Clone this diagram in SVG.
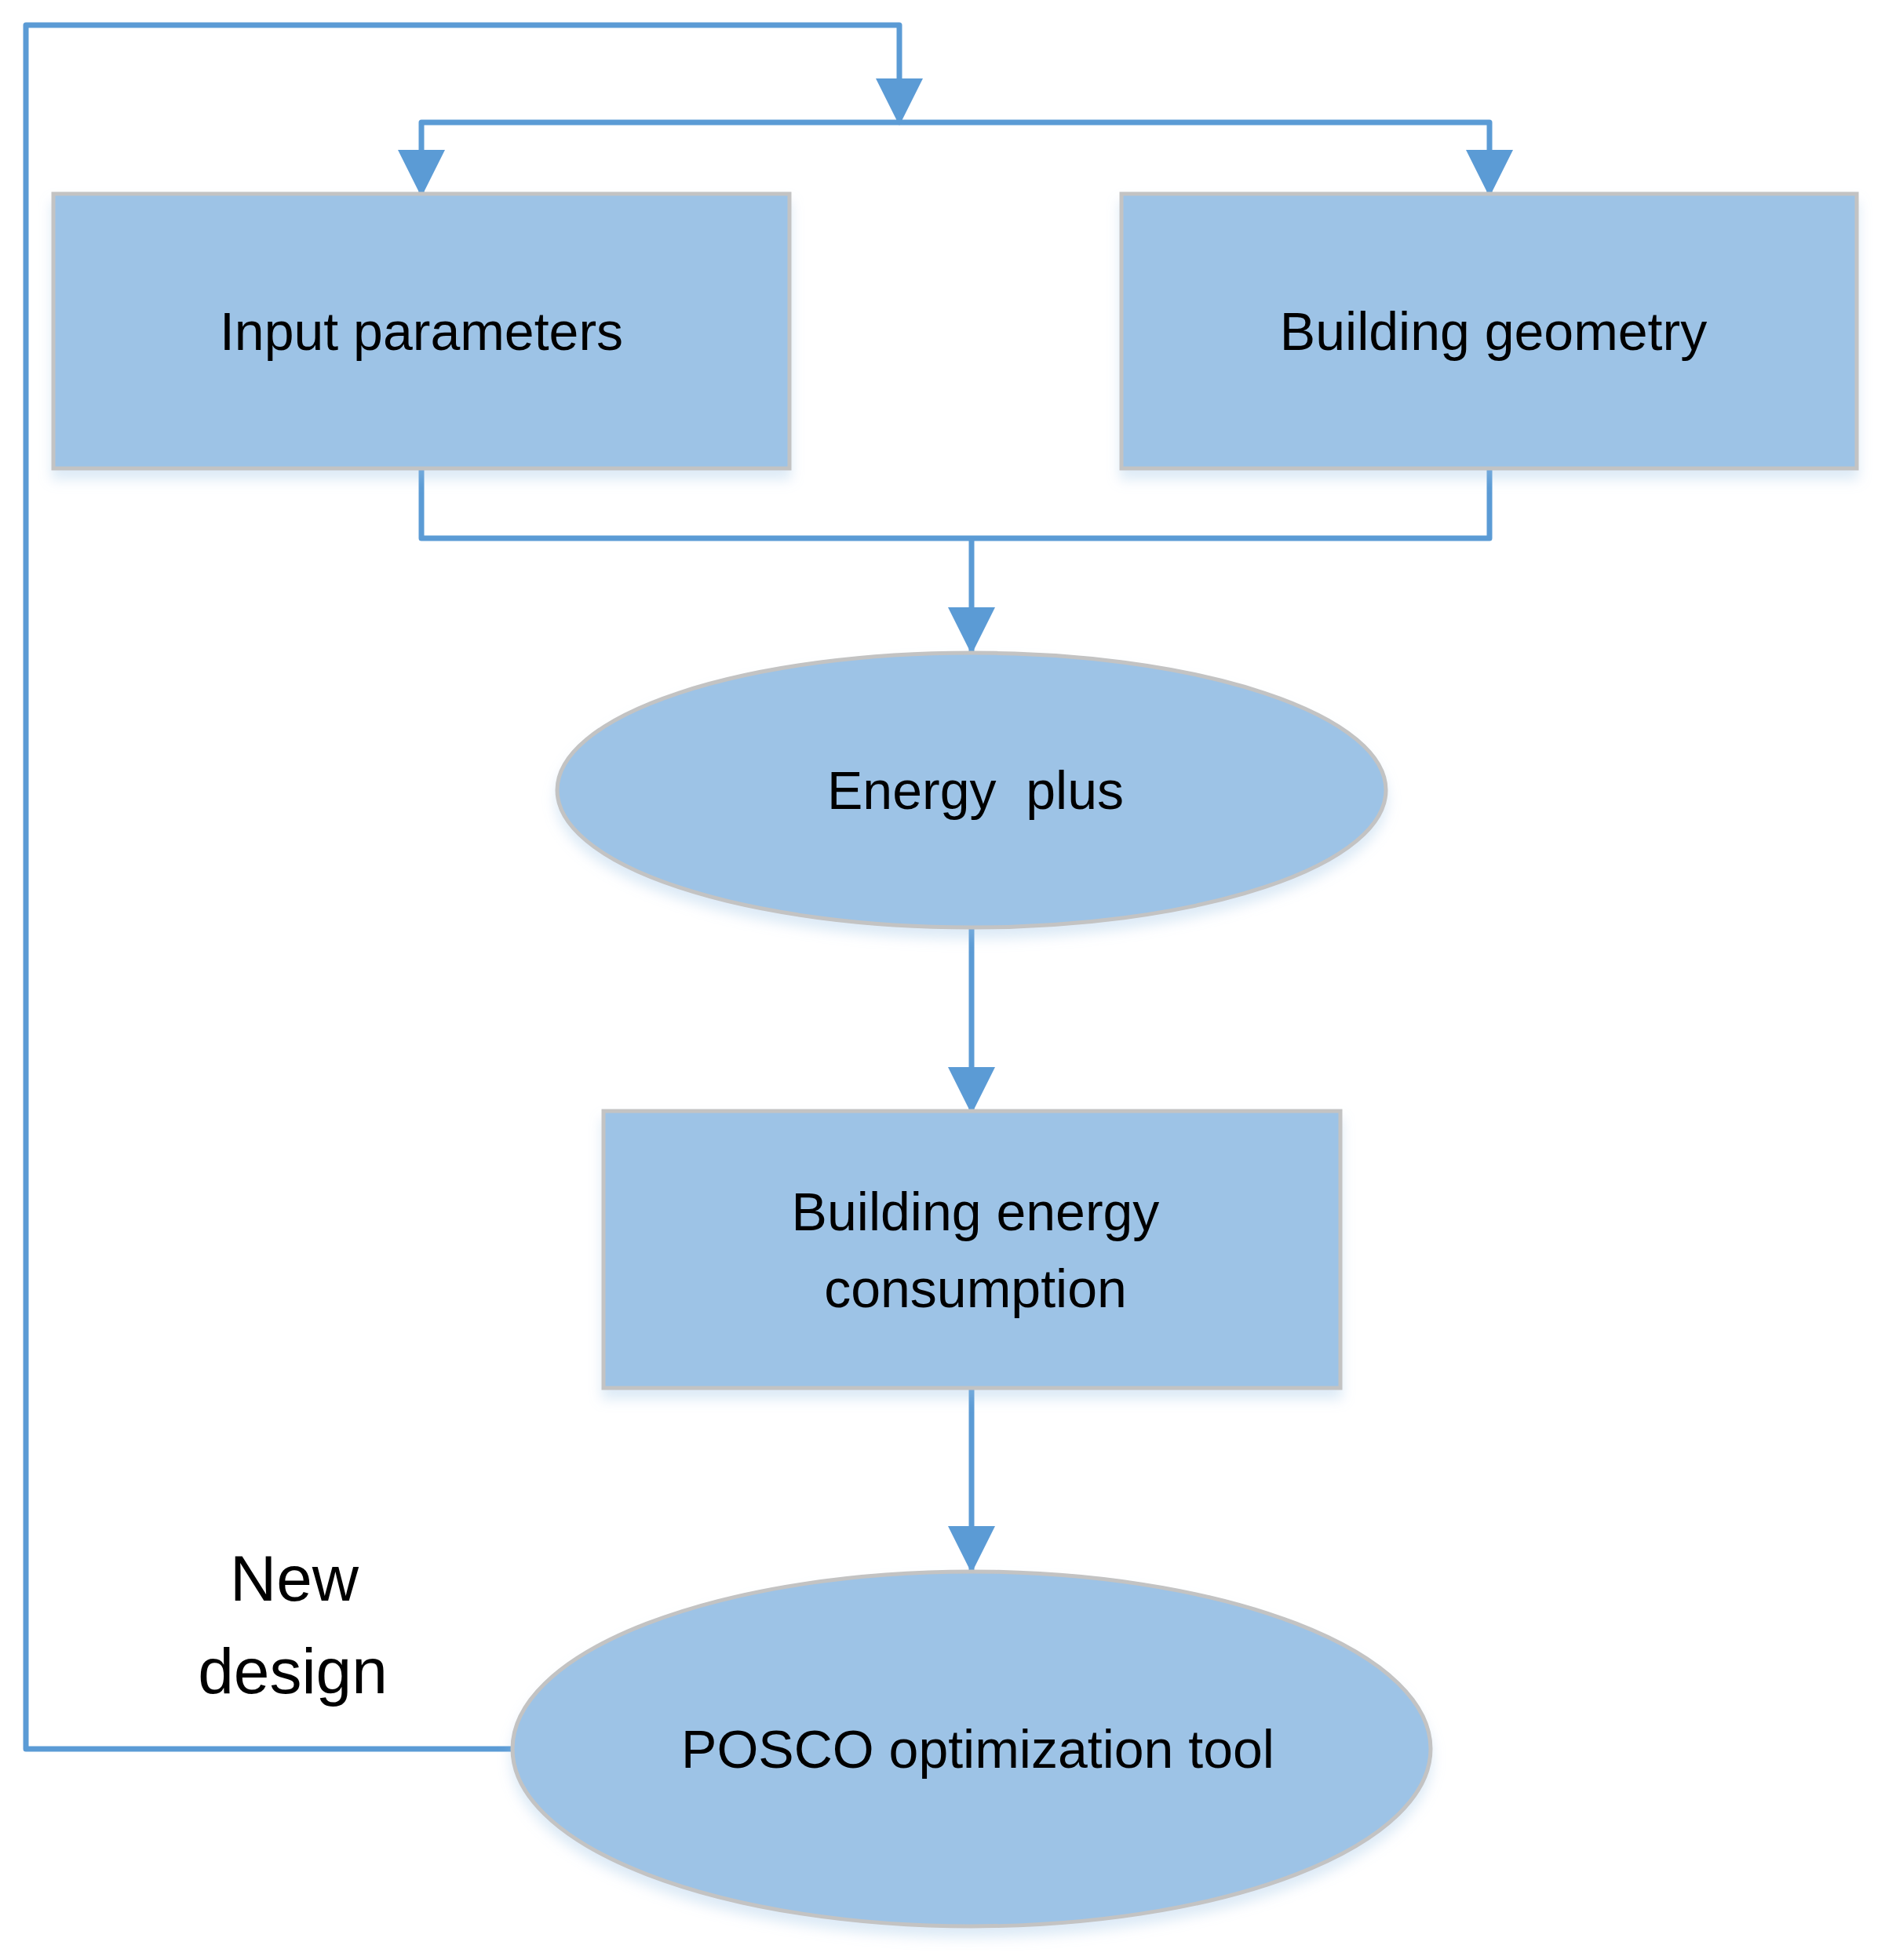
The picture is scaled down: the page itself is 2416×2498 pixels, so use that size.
<svg xmlns="http://www.w3.org/2000/svg" width="2416" height="2498" viewBox="0 0 2416 2498">
<style>
.n{fill:#9dc3e6;stroke:#c3c3c3;stroke-width:5}
.t{font-family:"Liberation Sans",Arial,sans-serif;font-size:68px;fill:#000;text-anchor:middle}
.c{fill:none;stroke:#5b9bd5;stroke-width:7;stroke-linejoin:round}
</style>
<defs>
<marker id="a" markerUnits="userSpaceOnUse" markerWidth="60" markerHeight="60" refX="56" refY="30" orient="auto"><path d="M0,0 L60,30 L0,60 Z" fill="#5b9bd5"/></marker>
<filter id="s" x="-5%" y="-5%" width="115%" height="120%"><feDropShadow dx="0" dy="12" stdDeviation="8" flood-color="#9dc3e6" flood-opacity="0.35"/></filter>
</defs>
<rect width="2416" height="2498" fill="#fff"/>
<g id="connectors">
<path class="c" d="M655,2229 H33 V32 H1146 V156" marker-end="url(#a)"/>
<path class="c" d="M1146,156 H537 V247" marker-end="url(#a)"/>
<path class="c" d="M1146,156 H1898 V247" marker-end="url(#a)"/>
<path class="c" d="M537,597 V686 H1898 V597"/>
<path class="c" d="M1238,686 V830" marker-end="url(#a)"/>
<path class="c" d="M1238,1182 V1416" marker-end="url(#a)"/>
<path class="c" d="M1238,1769 V2001" marker-end="url(#a)"/>
</g>
<g id="input">
<rect class="n" filter="url(#s)" x="68" y="247" width="938" height="350"/>
<text class="t" x="537" y="446">Input parameters</text>
</g>
<g id="geometry">
<rect class="n" filter="url(#s)" x="1429" y="247" width="937" height="350"/>
<text class="t" x="1903" y="446">Building geometry</text>
</g>
<g id="energyplus">
<ellipse class="n" filter="url(#s)" cx="1238" cy="1007" rx="528" ry="175"/>
<text class="t" x="1243" y="1031" xml:space="preserve">Energy  plus</text>
</g>
<g id="consumption">
<rect class="n" filter="url(#s)" x="769" y="1416" width="939" height="353"/>
<text class="t" x="1243" y="1568">Building energy</text>
<text class="t" x="1243" y="1666">consumption</text>
</g>
<g id="posco">
<ellipse class="n" filter="url(#s)" cx="1238" cy="2229" rx="585" ry="226"/>
<text class="t" x="1246" y="2253">POSCO optimization tool</text>
</g>
<g id="label">
<text class="t" style="font-size:82px" x="375" y="2040">New</text>
<text class="t" style="font-size:82px" x="373" y="2158">design</text>
</g>
</svg>
